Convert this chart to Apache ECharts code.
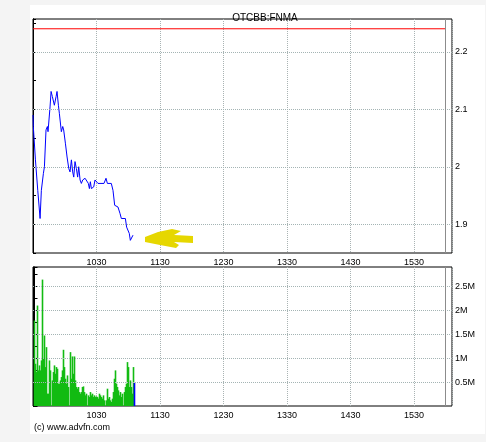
<!DOCTYPE html>
<html><head><meta charset="utf-8">
<script src="https://cdn.jsdelivr.net/npm/echarts@6/dist/echarts.min.js"></script>
<style>html,body{margin:0;padding:0;background:#f4f4f4}#c{width:486px;height:442px}</style>
</head><body><div id="c"></div>
<script>
const chartTitle = 'OTCBB:FNMA';
const copyright = '(c) www.advfn.com';
// minutes after 09:30
const priceTimes = [0,0.3,2.3,4.5,6.7,7.9,9.8,10.8,12.3,13.6,14.2,16.1,17.1,18.3,20.2,21.8,22.7,24.0,24.9,26.8,28.1,29.0,30.6,32.2,33.8,35.0,36.3,37.5,38.5,39.7,41.0,42.2,43.2,44.5,45.7,47.0,49.2,50.7,52.3,53.3,54.2,55.2,56.4,57.4,58.6,59.9,61.4,67.1,69.0,70.3,74.0,75.6,77.2,78.4,80.3,82.2,83.5,87.3,88.5,89.8,91.0,92.0,92.9,93.6,94.5];
const prices = [2.09,2.07,2.012,1.959,1.910,1.959,1.988,2.000,2.064,2.070,2.061,2.104,2.131,2.122,2.107,2.122,2.131,2.107,2.093,2.061,2.070,2.064,2.041,2.017,1.997,1.991,2.012,1.991,1.982,2.009,1.997,1.982,2.000,1.977,1.971,1.977,1.980,1.977,1.971,1.962,1.974,1.962,1.962,1.965,1.977,1.974,1.971,1.971,1.980,1.971,1.971,1.959,1.933,1.930,1.930,1.919,1.910,1.910,1.895,1.893,1.884,1.872,1.869,1.875,1.881];
const prevClose = 2.24;
// volume per bar, thousands of shares
const volumes = [1784,881,708,2096,743,847,743,951,2637,985,1471,812,1228,257,257,951,743,0,
534,708,847,673,812,777,465,465,534,604,743,1173,812,569,465,638,396,0,
1124,569,1034,673,1034,534,396,361,396,291,257,291,396,409,291,222,257,0,
222,187,291,222,257,187,222,187,201,187,153,257,222,187,153,222,118,0,
118,361,153,187,118,83,153,291,569,743,465,396,326,222,291,187,257,0,
291,396,465,916,812,396,534,396,257,812,480];
const priceTicks = [1.9, 2.0, 2.1, 2.2];
const volTicks = [500, 1000, 1500, 2000, 2500];
const timeTicks = [60, 120, 180, 240, 300, 360]; // 1030 ... 1530
const closeMinute = 390; // 1600

const FONT = 'Liberation Sans';
function timeLabel(m){ const t = 570 + m; return String(Math.floor(t/60)*100 + (t%60)); }
const gridStyle = {color:'#a4b4b4', type:'dotted', width:1};

const chart = echarts.init(document.getElementById('c'), null, {renderer:'canvas'});
const xBase = (gi) => ({
  gridIndex: gi, type:'value', min:0, max:396, interval:60,
  axisLine:{show:false}, axisTick:{show:false},
  axisLabel:{fontFamily:FONT, fontSize:9, color:'#000', margin:5,
    showMinLabel:false, showMaxLabel:false,
    formatter: v => timeTicks.indexOf(v) >= 0 ? timeLabel(v) : ''},
  splitLine:{show:true, lineStyle:{color:'#a9b3b3', type:'dotted'}}
});
const yRight = (gi, min, max, interval, fmt) => ({
  gridIndex: gi, type:'value', position:'right', min, max, interval,
  axisLine:{show:true, lineStyle:{color:'#000'}},
  axisTick:{show:true, length:3, lineStyle:{color:'#000'}},
  axisLabel:{fontFamily:FONT, fontSize:9, color:'#000', margin:3, formatter: fmt, showMaxLabel:false},
  splitLine:{show:false}
});
const yLeft = (gi, min, max, interval) => ({
  gridIndex: gi, type:'value', position:'left', min, max, interval,
  axisLine:{show:true, lineStyle:{color:'#000'}},
  axisTick:{show:true, inside:true, length:3, lineStyle:{color:'#000'}},
  axisLabel:{show:false}, splitLine:{show:false}
});

chart.setOption({
  animation:false,
  backgroundColor:'#f4f4f4',
  title:{text:chartTitle, left:260, top:8, textAlign:'center',
    textStyle:{fontFamily:FONT, fontSize:10, fontWeight:'normal', color:'#000'}},
  grid:[
    {left:33, top:19, width:419, height:234, show:true, borderColor:'#000', borderWidth:1, backgroundColor:'#fff'},
    {left:33, top:267, width:419, height:139, show:true, borderColor:'#000', borderWidth:1, backgroundColor:'#fff'}
  ],
  xAxis:[
    xBase(0), xBase(1),
    {gridIndex:1, type:'value', min:-1.5, max:417.5, show:false}
  ],
  yAxis:[
    yRight(0, 1.85, 2.257, 0.05, v => priceTicks.some(t => Math.abs(t - v) < 1e-6) ? String(+v.toFixed(2)) : ''),
    yLeft(0, 1.85, 2.257, 0.05),
    yRight(1, 0, 2900, 250, v => volTicks.indexOf(Math.round(v)) >= 0 ? (Math.round(v)/1000) + 'M' : ''),
    yLeft(1, 0, 2900, 250)
  ],
  graphic:[
    {type:'rect', z:-10, shape:{x:30, y:5, width:455, height:429}, style:{fill:'#fff'}},
    {type:'text', left:34, top:423, style:{text:copyright, font:'9px "Liberation Sans"', fill:'#000'}},
    {type:'polygon', z:100, shape:{points:[[145,237],[158,232],[172,229],[181,231],[174,235],[193,236],[193,243],[174,242],[179,245],[176,248],[160,245],[145,242]]},
      style:{fill:'#e6d700'}}
  ],
  series:[
    {type:'line', xAxisIndex:0, yAxisIndex:0, data:[[0, priceTicks[0]]], symbol:'none', lineStyle:{opacity:0}, z:1, silent:true,
      markLine:{silent:true, symbol:['none','none'], label:{show:false},
        data: priceTicks.map(v => ({yAxis:v, lineStyle:gridStyle}))
          .concat([{xAxis:closeMinute, lineStyle:{color:'#8c8c8c', type:'solid', width:1}}])}},
    {type:'line', xAxisIndex:0, yAxisIndex:0, data:[[0, prevClose],[closeMinute, prevClose]], symbol:'none',
      lineStyle:{color:'#ff0000', width:1}, z:3, silent:true},
    {type:'line', xAxisIndex:0, yAxisIndex:0, data: priceTimes.map((t,i) => [t, prices[i]]), symbol:'none',
      lineStyle:{color:'#0000ff', width:1}, z:4, silent:true},
    {type:'line', xAxisIndex:1, yAxisIndex:2, data:[[0,0]], symbol:'none', lineStyle:{opacity:0}, z:1, silent:true,
      markLine:{silent:true, symbol:['none','none'], label:{show:false},
        data: volTicks.map(v => ({yAxis:v, lineStyle:gridStyle}))
          .concat([{xAxis:closeMinute, lineStyle:{color:'#8c8c8c', type:'solid', width:1}}])}},
    {type:'bar', xAxisIndex:2, yAxisIndex:2, barWidth:1.6, z:3, silent:true,
      data: volumes.map((v,i) => i === volumes.length - 1 ? {value:[i, v], itemStyle:{color:'#0000ff'}} : [i, v]),
      itemStyle:{color:'#12bb12'}}
  ]
});
</script></body></html>
